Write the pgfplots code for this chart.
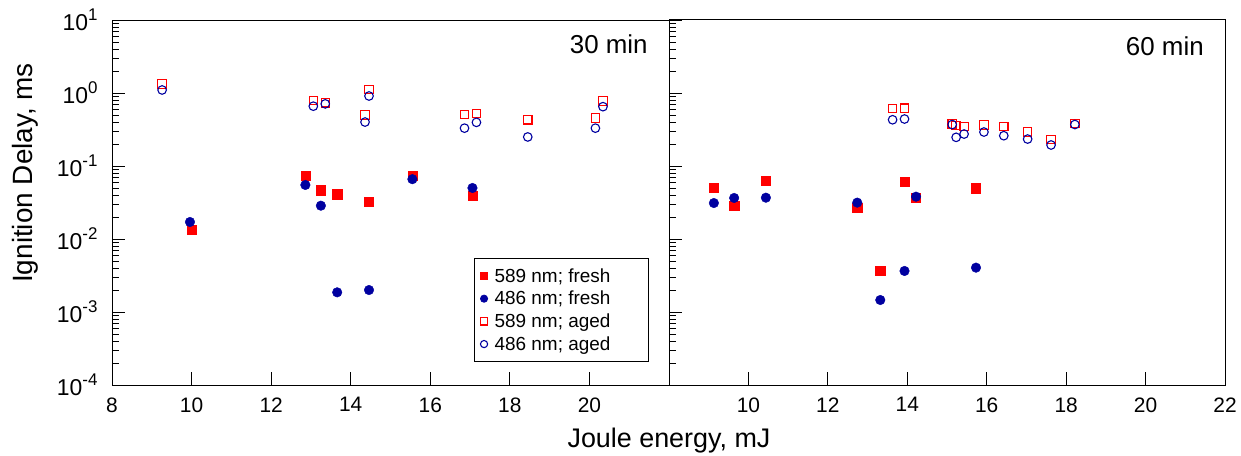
\documentclass[border=0pt]{standalone}
\usepackage{pgfplots}
\pgfplotsset{compat=1.18}
\usepackage{fontspec}
\setmainfont{Liberation Sans}
\definecolor{cred}{RGB}{255,0,0}
\definecolor{cnavy}{RGB}{0,0,160}
\newcommand\sps[1]{\raisebox{0.42em}{\fontsize{17}{19}\selectfont #1}}
\pgfplotsset{
  fr/.style={only marks, mark=square*, mark size=4.6bp, draw=cred, fill=cred, mark options={solid, fill=cred, draw=cred}},
  fb/.style={only marks, mark=*, mark size=4.8bp, draw=cnavy, fill=cnavy, mark options={solid, fill=cnavy, draw=cnavy}},
  ar/.style={only marks, mark=square, mark size=4.2bp, draw=cred, mark options={solid, draw=cred, fill=none, line width=1.1bp}},
  ab/.style={only marks, mark=o, mark size=4.3bp, draw=cnavy, mark options={solid, draw=cnavy, fill=none, line width=1.1bp}},
}
\begin{document}
\begin{tikzpicture}
\useasboundingbox (0,0) rectangle (1241bp,456bp);
\begin{axis}[at={(112bp,71bp)}, anchor=south west,
    scale only axis, width=557bp, height=365bp,
    xmin=8, xmax=22, ymode=log, ymin=1e-4, ymax=10,
    tick align=inside, xtick pos=left, ytick pos=left,
    major tick length=13bp, minor tick length=7bp,
    ytick={1e-4,1e-3,1e-2,1e-1,1,10},
    minor ytick={2e-4,3e-4,4e-4,5e-4,6e-4,7e-4,8e-4,9e-4,
                 2e-3,3e-3,4e-3,5e-3,6e-3,7e-3,8e-3,9e-3,
                 2e-2,3e-2,4e-2,5e-2,6e-2,7e-2,8e-2,9e-2,
                 2e-1,3e-1,4e-1,5e-1,6e-1,7e-1,8e-1,9e-1,
                 2,3,4,5,6,7,8,9},
    tick style={black, line width=0.8bp},
    axis line style={black, line width=1bp},
    xticklabel style={font=\fontsize{21}{24}\selectfont, yshift=-9bp},
    yticklabel style={font=\fontsize{23}{26}\selectfont, xshift=-11bp},
    /pgf/number format/assume math mode=true,
    clip=false,
  xtick={8,10,12,14,16,18,20,22},
  xticklabels={8,10,12,14,16,18,20,},
  yticklabels={10\sps{-4},10\sps{-3},10\sps{-2},10\sps{-1},10\sps{0},10\sps{1}},
  ylabel={Ignition Delay, ms},
  ylabel style={at={(axis description cs:-0.156,0.581)}, anchor=center, font=\fontsize{28}{32}\selectfont},
  xlabel={Joule energy, mJ},
  xlabel style={at={(axis description cs:1,-0.151)}, anchor=center, font=\fontsize{27}{30}\selectfont},
  legend style={at={(0.650,0.348)}, anchor=north west, draw=black, line width=0.8bp,
    font=\fontsize{19}{22}\selectfont, row sep=3.5bp, column sep=5bp, inner xsep=6bp, inner ysep=8bp},
  legend cell align=left,
  legend image post style={mark size=3.6bp},
]
\addplot[fr] coordinates {(10,0.0133) (12.86,0.073) (13.25,0.0465) (13.66,0.041) (14.46,0.0324) (15.55,0.0736) (17.06,0.0388)};
\addlegendentry{\makebox[146bp][l]{589 nm; fresh}}
\addplot[fb] coordinates {(9.96,0.0171) (12.86,0.055) (13.25,0.0286) (13.66,0.00186) (14.46,0.0020) (15.55,0.066) (17.06,0.050)};
\addlegendentry{\makebox[146bp][l]{486 nm; fresh}}
\addplot[ar] coordinates {(9.26,1.33) (13.06,0.785) (13.36,0.735) (14.36,0.50) (14.46,1.12) (16.86,0.505) (17.16,0.526) (18.45,0.43) (20.15,0.455) (20.34,0.776)};
\addlegendentry{\makebox[146bp][l]{589 nm; aged}}
\addplot[ab] coordinates {(9.26,1.10) (13.06,0.66) (13.36,0.71) (14.36,0.40) (14.46,0.91) (16.86,0.33) (17.16,0.396) (18.45,0.25) (20.15,0.33) (20.34,0.65)};
\addlegendentry{\makebox[146bp][l]{486 nm; aged}}
\node[anchor=base east, font=\fontsize{26}{29}\selectfont] at (rel axis cs:0.968,0.907) {30 min};
\end{axis}
\begin{axis}[at={(669bp,71bp)}, anchor=south west,
    scale only axis, width=556bp, height=365bp,
    xmin=8, xmax=22, ymode=log, ymin=1e-4, ymax=10,
    tick align=inside, xtick pos=left, ytick pos=left,
    major tick length=13bp, minor tick length=7bp,
    ytick={1e-4,1e-3,1e-2,1e-1,1,10},
    minor ytick={2e-4,3e-4,4e-4,5e-4,6e-4,7e-4,8e-4,9e-4,
                 2e-3,3e-3,4e-3,5e-3,6e-3,7e-3,8e-3,9e-3,
                 2e-2,3e-2,4e-2,5e-2,6e-2,7e-2,8e-2,9e-2,
                 2e-1,3e-1,4e-1,5e-1,6e-1,7e-1,8e-1,9e-1,
                 2,3,4,5,6,7,8,9},
    tick style={black, line width=0.8bp},
    axis line style={black, line width=1bp},
    xticklabel style={font=\fontsize{21}{24}\selectfont, yshift=-9bp},
    /pgf/number format/assume math mode=true,
    clip=false,
  xtick={8,10,12,14,16,18,20,22},
  xticklabels={,10,12,14,16,18,20,22},
  yticklabels={},
]
\addplot[fr] coordinates {(9.13,0.051) (9.64,0.0286) (10.44,0.063) (12.74,0.0268) (13.32,0.00365) (13.93,0.0616) (14.22,0.037) (15.73,0.0496)};
\addplot[fb] coordinates {(9.13,0.0311) (9.64,0.0365) (10.44,0.0368) (12.74,0.0315) (13.32,0.00146) (13.93,0.00365) (14.22,0.038) (15.73,0.00405)};
\addplot[ar] coordinates {(13.63,0.61) (13.93,0.62) (15.13,0.375) (15.23,0.36) (15.43,0.345) (15.93,0.365) (16.43,0.35) (17.03,0.292) (17.62,0.232) (18.22,0.38)};
\addplot[ab] coordinates {(13.63,0.43) (13.93,0.44) (15.13,0.37) (15.23,0.247) (15.43,0.274) (15.93,0.292) (16.43,0.26) (17.03,0.234) (17.62,0.194) (18.22,0.37)};
\node[anchor=base east, font=\fontsize{26}{29}\selectfont] at (rel axis cs:0.968,0.904) {60 min};
\end{axis}
\end{tikzpicture}
\end{document}
